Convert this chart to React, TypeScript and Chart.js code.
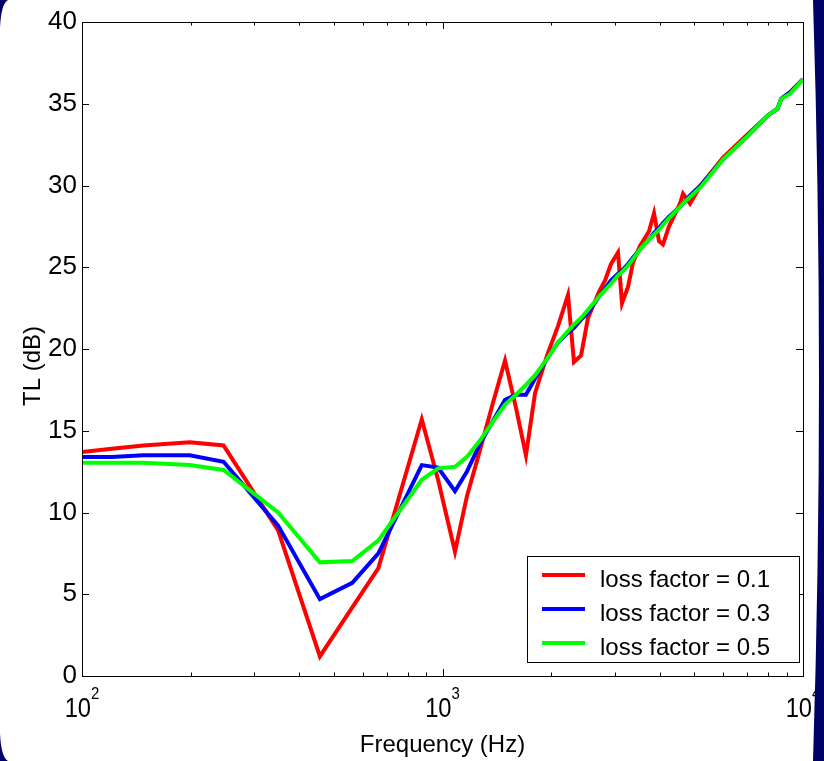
import React, { useEffect, useRef } from "react";
import { Chart, registerables } from "chart.js";

Chart.register(...registerables);

// ---- data ----
const freqHz = [
  100, 121, 148, 199, 247, 350, 457, 562, 664, 876,
  972, 1083, 1169, 1270, 1380, 1491, 1599, 1704, 1806, 1949,
  2091, 2229, 2316, 2423, 2533, 2717, 2824, 2934, 3068, 3147,
  3270, 3377, 3531, 3740, 3861, 3987, 4089, 4250, 4559, 4647,
  4860, 5200, 6000, 7000, 8000, 8500, 8700, 9200, 10000,
];

const tlLoss01 = [
  13.7, 13.9, 14.1, 14.3, 14.1, 8.9, 1.2, 4.2, 6.6, 15.7,
  12.0, 7.6, 11.0, 13.8, 16.7, 19.3, 16.4, 13.5, 17.3, 19.6,
  21.4, 23.3, 19.2, 19.6, 21.9, 23.5, 24.2, 25.2, 25.9, 22.8,
  23.8, 25.3, 26.3, 27.2, 28.3, 26.6, 26.4, 27.5, 28.9, 29.5,
  28.9, 30.0, 31.7, 33.1, 34.3, 34.7, 35.3, 35.7, 36.5,
];

const tlLoss03 = [
  13.4, 13.4, 13.5, 13.5, 13.1, 9.2, 4.7, 5.7, 7.5, 12.9,
  12.75, 11.3, 12.5, 14.2, 15.6, 16.9, 17.2, 17.2, 18.2, 19.4,
  20.4, 21.0, 21.3, 21.8, 22.2, 23.2, 23.7, 24.2, 24.6, 24.8,
  25.2, 25.6, 26.1, 26.7, 27.1, 27.4, 27.7, 28.1, 28.7, 28.9,
  29.4, 30.0, 31.6, 33.0, 34.3, 34.7, 35.3, 35.7, 36.5,
];

const tlLoss05 = [
  13.05, 13.05, 13.05, 12.9, 12.6, 10.0, 6.95, 7.03, 8.3, 12.0,
  12.7, 12.8, 13.4, 14.4, 15.55, 16.6, 17.2, 17.8, 18.4, 19.4,
  20.4, 21.1, 21.5, 21.9, 22.4, 23.2, 23.6, 24.0, 24.5, 24.7,
  25.1, 25.5, 26.1, 26.7, 27.0, 27.3, 27.6, 28.0, 28.7, 28.9,
  29.3, 29.9, 31.6, 33.0, 34.3, 34.7, 35.3, 35.6, 36.5,
];

const seriesLabels = ["loss factor = 0.1", "loss factor = 0.3", "loss factor = 0.5"];
const seriesColors = ["#ff0000", "#0000ff", "#00ff00"];
const xMajorTicks = [100, 1000, 10000];
const yMin = 0;
const yMax = 40;
const yStep = 5;
const xTitle = "Frequency (Hz)";
const yTitle = "TL (dB)";

const FONT = "'Liberation Sans', Arial, Helvetica, sans-serif";
const W = 824;
const H = 761;

function whiteShape(ctx: CanvasRenderingContext2D) {
  ctx.moveTo(8, 0);
  ctx.lineTo(813, 0);
  ctx.quadraticCurveTo(825, 380, 813, H);
  ctx.lineTo(8, H);
  ctx.quadraticCurveTo(1, H - 4, 0, H - 28);
  ctx.lineTo(0, 28);
  ctx.quadraticCurveTo(1, 4, 8, 0);
  ctx.closePath();
}

const decorPlugin = {
  id: "matlabDecor",
  beforeDraw(chart: any) {
    const ctx = chart.ctx as CanvasRenderingContext2D;
    ctx.save();
    ctx.fillStyle = "#ffffff";
    ctx.fillRect(0, 0, chart.width, chart.height);
    ctx.restore();
  },
  afterDraw(chart: any) {
    const ctx = chart.ctx as CanvasRenderingContext2D;
    const a = chart.chartArea;
    const xs = chart.scales.x;
    const ys = chart.scales.y;
    ctx.save();
    ctx.strokeStyle = "#000";
    ctx.lineWidth = 1;

    // y ticks (inward, both sides)
    ctx.beginPath();
    for (let v = yMin; v <= yMax; v += yStep) {
      const py = Math.round(ys.getPixelForValue(v)) + 0.5;
      ctx.moveTo(a.left, py);
      ctx.lineTo(a.left + 7, py);
      ctx.moveTo(a.right, py);
      ctx.lineTo(a.right - 7, py);
    }
    // x ticks (log, inward, top and bottom)
    for (let e = 2; e <= 4; e++) {
      for (let m = 1; m <= 9; m++) {
        const v = m * Math.pow(10, e);
        if (v > 10000) break;
        const len = m === 1 ? 7 : 3.5;
        const px = Math.round(xs.getPixelForValue(v)) + 0.5;
        ctx.moveTo(px, a.bottom);
        ctx.lineTo(px, a.bottom - len);
        ctx.moveTo(px, a.top);
        ctx.lineTo(px, a.top + len);
      }
    }
    ctx.stroke();

    // axes box
    ctx.strokeRect(
      Math.round(a.left) + 0.5,
      Math.round(a.top) + 0.5,
      Math.round(a.right - a.left),
      Math.round(a.bottom - a.top)
    );

    // x tick labels 10^n (slightly condensed, as in the reference)
    const sx = 0.88;
    ctx.fillStyle = "#000";
    ctx.textAlign = "left";
    ctx.textBaseline = "alphabetic";
    xMajorTicks.forEach((v) => {
      const px = xs.getPixelForValue(v);
      const exp = String(Math.round(Math.log10(v)));
      ctx.font = `27px ${FONT}`;
      const wBase = ctx.measureText("10").width * sx;
      ctx.font = `17px ${FONT}`;
      const wExp = ctx.measureText(exp).width * sx;
      const start = px - (wBase + wExp) / 2;
      ctx.save();
      ctx.translate(start, 717);
      ctx.scale(sx, 1);
      ctx.font = `27px ${FONT}`;
      ctx.fillText("10", 0, 0);
      ctx.restore();
      ctx.save();
      ctx.translate(start + wBase, 699);
      ctx.scale(sx, 1);
      ctx.font = `17px ${FONT}`;
      ctx.fillText(exp, 0, 0);
      ctx.restore();
    });

    // y title
    ctx.save();
    ctx.translate(33, 366);
    ctx.rotate(-Math.PI / 2);
    ctx.font = `24px ${FONT}`;
    ctx.textAlign = "center";
    ctx.textBaseline = "middle";
    ctx.fillText(yTitle, 0, 0);
    ctx.restore();

    // legend
    const lx = 527.5, ly = 556.5, lw = 272, lh = 106;
    ctx.fillStyle = "#fff";
    ctx.fillRect(lx, ly, lw, lh);
    ctx.strokeStyle = "#000";
    ctx.lineWidth = 1;
    ctx.strokeRect(lx, ly, lw, lh);
    const rows = [575, 609, 643];
    chart.data.datasets.forEach((ds: any, i: number) => {
      const y = rows[i];
      ctx.beginPath();
      ctx.strokeStyle = ds.borderColor;
      ctx.lineWidth = 4;
      ctx.moveTo(542, y);
      ctx.lineTo(585, y);
      ctx.stroke();
      ctx.fillStyle = "#000";
      ctx.font = `24px ${FONT}`;
      ctx.textAlign = "left";
      ctx.textBaseline = "alphabetic";
      ctx.fillText(ds.label, 600, y + 12);
    });

    // slide frame (navy outside of the white panel)
    ctx.beginPath();
    ctx.rect(0, 0, chart.width, chart.height);
    whiteShape(ctx);
    ctx.fillStyle = "#000066";
    ctx.fill("evenodd");
    ctx.restore();
  },
};

export default function App() {
  const ref = useRef<HTMLCanvasElement>(null);
  useEffect(() => {
    const series = [tlLoss01, tlLoss03, tlLoss05];
    const chart = new Chart(ref.current as HTMLCanvasElement, {
      type: "line",
      data: {
        datasets: series.map((vals, i) => ({
          label: seriesLabels[i],
          data: freqHz.map((f, k) => ({ x: f, y: vals[k] })),
          borderColor: seriesColors[i],
          backgroundColor: seriesColors[i],
          borderWidth: 4,
          pointRadius: 0,
          tension: 0,
          fill: false,
          order: 3 - i,
        })),
      },
      options: {
        responsive: false,
        animation: false,
        devicePixelRatio: 1,
        events: [],
        layout: { padding: { top: 22, right: 21, left: 0, bottom: 0 } },
        plugins: {
          legend: { display: false },
          tooltip: { enabled: false },
        },
        scales: {
          x: {
            type: "logarithmic",
            min: 100,
            max: 10000,
            grid: { display: false, drawTicks: false },
            border: { display: false },
            ticks: { display: false },
            title: {
              display: true,
              text: xTitle,
              color: "#000",
              font: { family: FONT, size: 24 },
              padding: { top: 0, bottom: 1 },
            },
            afterFit: (s: any) => {
              s.height = 85;
            },
          },
          y: {
            type: "linear",
            min: yMin,
            max: yMax,
            grid: { display: false, drawTicks: false },
            border: { display: false },
            ticks: {
              stepSize: yStep,
              color: "#000",
              padding: 5,
              font: { family: FONT, size: 26 },
            },
            afterFit: (s: any) => {
              s.width = 82;
            },
          },
        },
      } as any,
      plugins: [decorPlugin as any],
    });
    return () => chart.destroy();
  }, []);
  return (
    <canvas
      ref={ref}
      width={W}
      height={H}
      style={{ position: "fixed", left: 0, top: 0, width: W, height: H, display: "block" }}
    />
  );
}
